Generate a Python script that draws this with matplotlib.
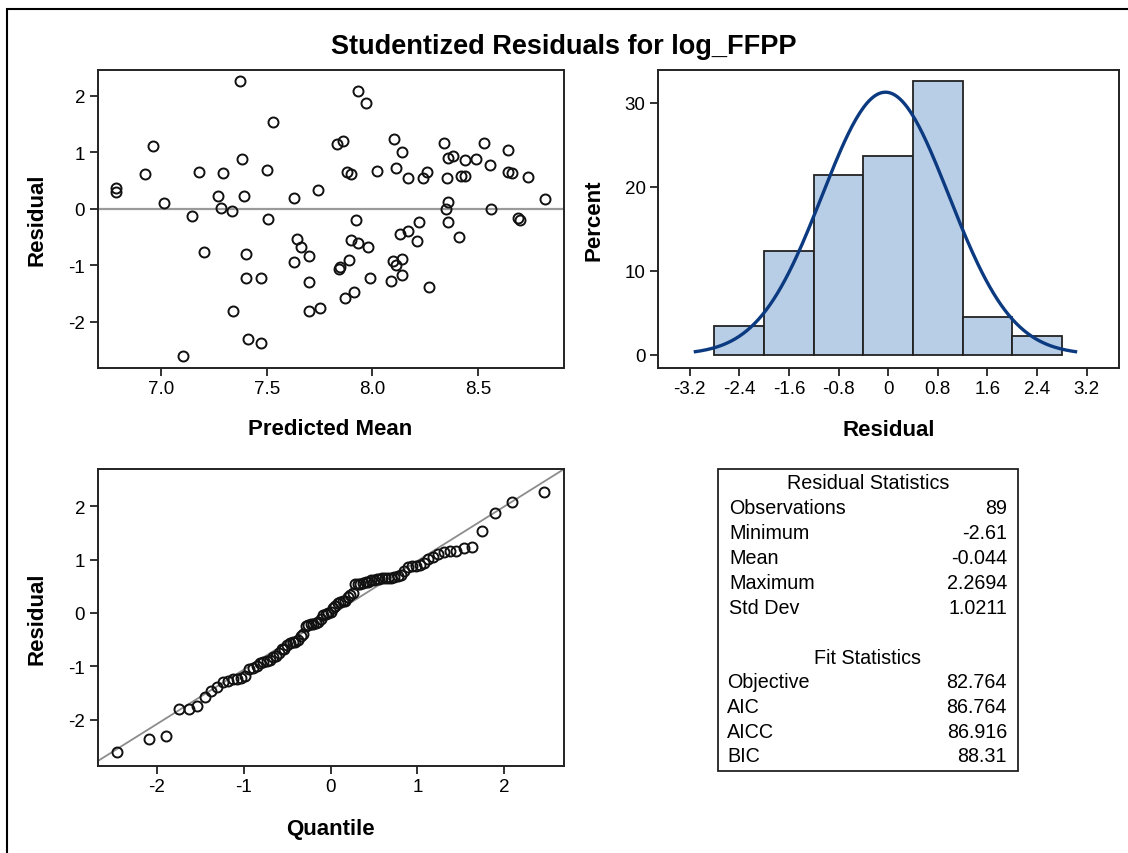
import matplotlib
matplotlib.use("Agg")
import matplotlib.pyplot as plt
import matplotlib.patches as patches
import numpy as np
from statistics import NormalDist

plt.rcParams['font.family'] = ['Liberation Sans', 'DejaVu Sans']
plt.rcParams['axes.unicode_minus'] = False

# Predicted mean and studentized residual for the 89 observations
pred = [7.37, 7.53, 6.96, 7.38, 6.92, 7.18, 7.29, 7.50, 6.785, 6.785,
        7.74, 7.01, 7.27, 7.39, 7.63, 7.28, 7.335, 7.147, 7.507, 7.64,
        7.66, 7.20, 7.40, 7.70, 7.626, 7.40, 7.47, 7.70, 7.34, 7.70,
        7.75, 7.41, 7.47, 7.10, 7.93, 7.97, 7.83, 7.86, 8.10, 8.14,
        8.34, 8.53, 8.64, 8.36, 8.38, 8.44, 8.49, 8.555, 7.88, 7.90,
        8.02, 8.11, 8.17, 8.24, 8.26, 8.355, 8.42, 8.44, 8.64, 8.66,
        8.735, 8.815, 8.36, 8.35, 8.56, 8.69, 8.70, 7.92, 8.22, 8.36,
        8.13, 8.17, 8.21, 8.41, 7.90, 7.93, 7.98, 7.89, 7.84, 7.845,
        8.095, 8.14, 8.11, 7.99, 8.09, 8.14, 8.27, 7.91, 7.87]
resid = [2.27, 1.53, 1.11, 0.89, 0.61, 0.66, 0.63, 0.69, 0.37, 0.30,
         0.34, 0.10, 0.23, 0.23, 0.20, 0.02, -0.03, -0.12, -0.18, -0.54,
         -0.67, -0.76, -0.80, -0.83, -0.94, -1.23, -1.23, -1.30, -1.81, -1.81,
         -1.75, -2.30, -2.37, -2.61, 2.09, 1.875, 1.15, 1.21, 1.23, 1.01,
         1.17, 1.16, 1.05, 0.90, 0.93, 0.86, 0.89, 0.78, 0.66, 0.61,
         0.67, 0.72, 0.55, 0.54, 0.65, 0.54, 0.59, 0.59, 0.65, 0.64,
         0.56, 0.18, 0.13, -0.01, 0.00, -0.17, -0.20, -0.20, -0.23, -0.24,
         -0.44, -0.39, -0.57, -0.50, -0.55, -0.61, -0.68, -0.90, -1.06, -1.03,
         -0.92, -0.89, -0.99, -1.22, -1.27, -1.18, -1.39, -1.47, -1.58]

hist_edges = [-2.8, -2.0, -1.2, -0.4, 0.4, 1.2, 2.0, 2.8]
hist_ticks = [-3.2, -2.4, -1.6, -0.8, 0, 0.8, 1.6, 2.4, 3.2]
hist_tick_labels = ['-3.2', '-2.4', '-1.6', '-0.8', '0', '0.8', '1.6', '2.4', '3.2']

res_mean = -0.044
res_std = 1.0211

res_stats = [('Observations', '89'), ('Minimum', '-2.61'), ('Mean', '-0.044'),
             ('Maximum', '2.2694'), ('Std Dev', '1.0211')]
fit_stats = [('Objective', '82.764'), ('AIC', '86.764'), ('AICC', '86.916'),
             ('BIC', '88.31')]

W, H = 1128, 854
fig = plt.figure(figsize=(W / 100, H / 100), dpi=100)


def px_axes(left, top, right, bottom):
    return fig.add_axes([left / W, 1 - bottom / H, (right - left) / W, (bottom - top) / H])


def style(ax):
    for s in ax.spines.values():
        s.set_linewidth(1.4)
        s.set_color('#222222')
    ax.tick_params(labelsize=13.5, length=6, width=1.3, pad=3, color='#222222')


edge = '#111111'
mk = dict(marker='o', ms=7.2, mfc='none', mec=edge, mew=1.4, ls='none')

# outer frame (only top and left edges show)
fig.patches.append(patches.Rectangle((7 / W, -0.1), 1.2, 1 - 10 / H + 0.1,
                                     transform=fig.transFigure, fill=False,
                                     ec='black', lw=1.5))

fig.text(0.5, 1 - 47 / H, 'Studentized Residuals for log_FFPP', ha='center',
         va='center', fontsize=19.5, fontweight='bold')

# residual vs predicted
ax1 = px_axes(97.5, 71, 563.5, 369)
ax1.axhline(0, color='#9a9a9a', lw=1.6, zorder=1)
ax1.plot(pred, resid, **mk)
ax1.set_xlim(6.697, 8.905)
ax1.set_ylim(-2.82, 2.46)
ax1.set_xticks([7.0, 7.5, 8.0, 8.5])
ax1.set_xticklabels(['7.0', '7.5', '8.0', '8.5'])
ax1.set_yticks([-2, -1, 0, 1, 2])
ax1.set_xlabel('Predicted Mean', fontsize=16, fontweight='bold')
ax1.set_ylabel('Residual', fontsize=16, fontweight='bold')
ax1.xaxis.set_label_coords(0.5, -0.168)
ax1.yaxis.set_label_coords(-0.108, 0.5)
style(ax1)

# histogram with normal density
ax2 = px_axes(658, 71, 1119, 369)
n = len(resid)
ax2.hist(resid, bins=hist_edges, weights=np.full(n, 100.0 / n),
         color='#b8cde6', edgecolor='#222222', linewidth=1.3)
xs = np.linspace(res_mean - 3 * res_std, res_mean + 3 * res_std, 200)
dens = [NormalDist(res_mean, res_std).pdf(x) * 100 * 0.8 for x in xs]
ax2.plot(xs, dens, color='#0b3a80', lw=2.4)
ax2.set_xlim(-3.71, 3.72)
ax2.set_ylim(-1.6, 33.9)
ax2.set_xticks(hist_ticks)
ax2.set_xticklabels(hist_tick_labels)
ax2.set_yticks([0, 10, 20, 30])
ax2.set_xlabel('Residual', fontsize=16, fontweight='bold')
ax2.set_ylabel('Percent', fontsize=16, fontweight='bold')
ax2.xaxis.set_label_coords(0.5, -0.171)
ax2.yaxis.set_label_coords(-0.117, 0.5)
style(ax2)

# normal quantile plot
ax3 = px_axes(97.5, 470, 563.5, 767)
srt = np.sort(resid)
qs = [NormalDist().inv_cdf((i + 1 - 0.375) / (n + 0.25)) for i in range(n)]
lx = np.array([-3.0, 3.0])
ax3.plot(lx, res_mean + res_std * lx, color='#8c8c8c', lw=1.3, zorder=1)
ax3.plot(qs, srt, **mk)
ax3.set_xlim(-2.68, 2.68)
ax3.set_ylim(-2.87, 2.70)
ax3.set_xticks([-2, -1, 0, 1, 2])
ax3.set_yticks([-2, -1, 0, 1, 2])
ax3.set_xlabel('Quantile', fontsize=16, fontweight='bold')
ax3.set_ylabel('Residual', fontsize=16, fontweight='bold')
ax3.xaxis.set_label_coords(0.5, -0.175)
ax3.yaxis.set_label_coords(-0.108, 0.5)
style(ax3)

# statistics table
fig.patches.append(patches.Rectangle((718 / W, 1 - 772 / H), 300 / W, 302 / H,
                                     transform=fig.transFigure, fill=False,
                                     ec='#222222', lw=1.3))
tfs = 14.2
fig.text(868 / W, 1 - 484 / H, 'Residual Statistics', ha='center', va='center', fontsize=tfs)
y = 508.3
for lab, val in res_stats:
    fig.text(729 / W, 1 - y / H, lab, ha='left', va='center', fontsize=tfs)
    fig.text(1007 / W, 1 - y / H, val, ha='right', va='center', fontsize=tfs)
    y += 25
fig.text(868 / W, 1 - 658.3 / H, 'Fit Statistics', ha='center', va='center', fontsize=tfs)
y = 682.7
for lab, val in fit_stats:
    fig.text(727 / W, 1 - y / H, lab, ha='left', va='center', fontsize=tfs)
    fig.text(1007 / W, 1 - y / H, val, ha='right', va='center', fontsize=tfs)
    y += 24.7

fig.savefig('out.png', dpi=100)
